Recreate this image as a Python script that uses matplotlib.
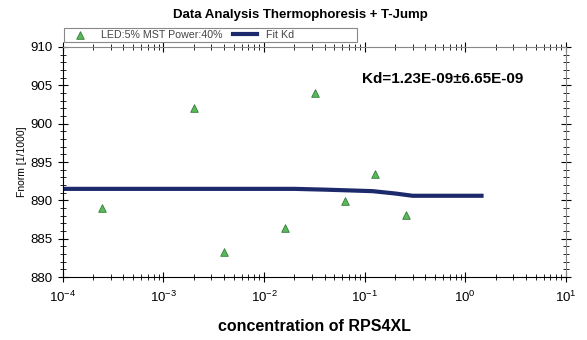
import matplotlib
matplotlib.use("Agg")

import matplotlib.pyplot as plt
from matplotlib.patches import Rectangle
from matplotlib.ticker import LogLocator, MultipleLocator, NullFormatter

plt.rcParams["font.family"] = ["Liberation Sans", "DejaVu Sans"]
plt.rcParams["mathtext.fontset"] = "custom"
plt.rcParams["mathtext.rm"] = "Liberation Sans"
plt.rcParams["mathtext.default"] = "regular"

# === data ===
conc = [2.44e-4, 2.0e-3, 4.0e-3, 1.6e-2, 3.2e-2, 6.4e-2, 0.128, 0.256]
fnorm = [889.0, 902.1, 883.3, 886.4, 904.0, 889.9, 893.5, 888.1]

fit_conc = [1e-4, 1e-3, 1e-2, 2e-2, 4e-2, 7e-2, 0.12, 0.2, 0.3, 0.5, 1.0, 1.45]
fit_fnorm = [891.5, 891.5, 891.5, 891.5, 891.4, 891.3, 891.2, 890.9, 890.6, 890.6, 890.6, 890.6]

kd_text = "Kd=1.23E-09\u00b16.65E-09"

# === plot ===
fig = plt.figure(figsize=(5.87, 3.4), dpi=100)
ax = fig.add_axes([0.107, 0.185, 0.857, 0.677])

line, = ax.plot(fit_conc, fit_fnorm, color="#1c2a6b", lw=3, label="Fit Kd", zorder=2)
pts = ax.scatter(conc, fnorm, marker="^", s=30, color="#5cb85c", edgecolors="#2e7d32",
                 linewidths=0.6, label="LED:5% MST Power:40%", zorder=3)

ax.set_xscale("log")
ax.set_xlim(1e-4, 1e1)
ax.set_ylim(880, 910)

ax.xaxis.set_major_locator(LogLocator(base=10, numticks=10))
ax.xaxis.set_minor_locator(LogLocator(base=10, subs=range(2, 10), numticks=100))
ax.xaxis.set_minor_formatter(NullFormatter())
ax.yaxis.set_major_locator(MultipleLocator(5))
ax.yaxis.set_minor_locator(MultipleLocator(1))

ax.tick_params(which="major", direction="inout", length=7, width=0.8, labelsize=9.5,
               top=True, right=True, pad=4)
ax.tick_params(which="minor", direction="inout", length=4, width=0.6, top=True, right=True)
ax.tick_params(axis="x", which="major", pad=6)
for side in ["top", "right"]:
    ax.spines[side].set_color("#888888")
ax.spines["left"].set_linewidth(0.8)
ax.spines["bottom"].set_linewidth(0.8)

ax.set_ylabel("Fnorm [1/1000]", fontsize=7.5, labelpad=2)
ax.set_xlabel("concentration of RPS4XL", fontsize=11.5, fontweight="bold", labelpad=10)
fig.text(0.511, 0.955, "Data Analysis Thermophoresis + T-Jump", ha="center", va="center",
         fontsize=9.5, fontweight="bold")
ax.text(0.755, 0.86, kd_text, transform=ax.transAxes, ha="center", va="center",
        fontsize=11, fontweight="bold")

# legend box sits above the axes, two entries placed separately
fig.patches.append(Rectangle((64 / 587, 1 - 42 / 340), 293 / 587, 14 / 340,
                             transform=fig.transFigure, fill=False,
                             edgecolor="#888888", lw=0.8))
ly = 1 - 35 / 340
fig.legend([pts], ["LED:5% MST Power:40%"], loc="center left", bbox_to_anchor=(70 / 587, ly),
           frameon=False, fontsize=7.7, handlelength=1.87, handletextpad=1.0,
           borderaxespad=0, borderpad=0, labelcolor="#444444")
fig.legend([line], ["Fit Kd"], loc="center left", bbox_to_anchor=(233 / 587, ly),
           frameon=False, fontsize=7.7, handlelength=2.24, handletextpad=0.84,
           borderaxespad=0, borderpad=0, labelcolor="#444444")

plt.savefig("out.png", dpi=100)
plt.close()
